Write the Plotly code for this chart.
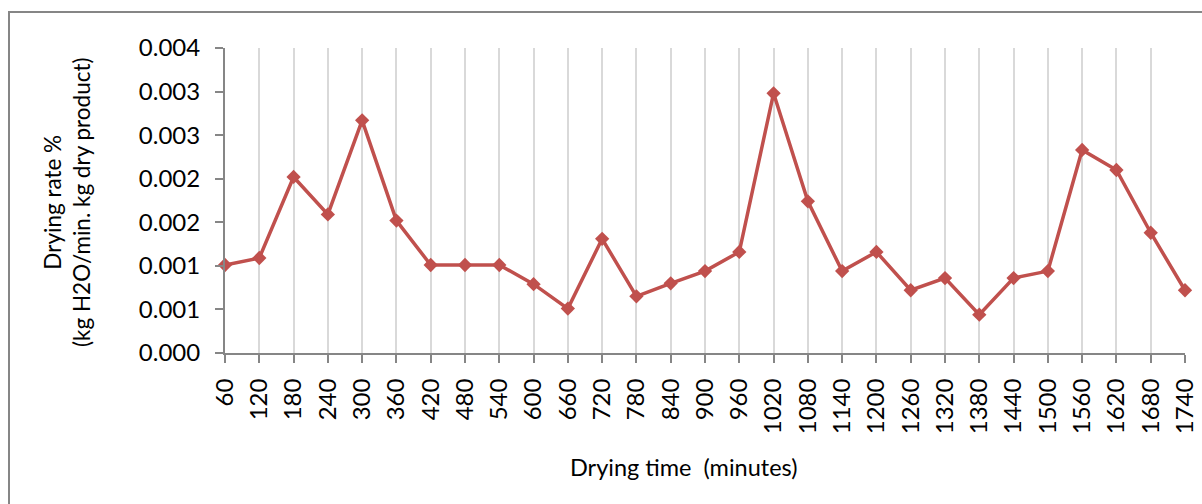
import plotly.graph_objects as go

# Data
drying_time = [60, 120, 180, 240, 300, 360, 420, 480, 540, 600, 660, 720, 780, 840, 900,
               960, 1020, 1080, 1140, 1200, 1260, 1320, 1380, 1440, 1500, 1560, 1620, 1680, 1740]
drying_rate = [0.00101, 0.00109, 0.00202, 0.00159, 0.00267, 0.00152, 0.00101, 0.00101, 0.00101,
               0.00079, 0.00051, 0.00131, 0.00065, 0.00080, 0.00094, 0.00116, 0.00298, 0.00174,
               0.00094, 0.00116, 0.00072, 0.00086, 0.00044, 0.00086, 0.00094, 0.00233, 0.00210,
               0.00138, 0.00072]
y_tickvals = [0, 0.0005, 0.001, 0.0015, 0.002, 0.0025, 0.003, 0.0035]
y_ticktext = ["0.000", "0.001", "0.001", "0.002", "0.002", "0.003", "0.003", "0.004"]
x_title = "Drying time  (minutes)"
y_title = "Drying rate %<br>(kg H2O/min. kg dry product)"

FONT = "Lato, 'Open Sans', sans-serif"
GREY = "#868686"

# Plot-area pixel geometry
W, H = 1202, 504
L, R, T, B = 225, 1185, 48, 353

def px(x):
    return (x - L) / (R - L)

def py(y):
    return (B - y) / (B - T)

fig = go.Figure()
fig.add_trace(go.Scatter(
    x=[str(v) for v in drying_time],
    y=drying_rate,
    mode="lines+markers",
    line=dict(color="#c0504d", width=3.5),
    marker=dict(symbol="diamond", size=11, color="#c0504d"),
    showlegend=False,
    cliponaxis=False,
))

fig.update_layout(
    template="none",
    width=W, height=H,
    margin=dict(l=L, r=W - R, t=T, b=H - B, pad=0),
    paper_bgcolor="white",
    plot_bgcolor="white",
    font=dict(family=FONT, size=24, color="black"),
    xaxis=dict(
        type="category",
        automargin=False,
        range=[0, len(drying_time) - 1],
        showgrid=True, gridcolor="#d9d9d9", gridwidth=1.5,
        showline=True, linecolor=GREY, linewidth=2,
        ticks="outside", ticklen=8, tickcolor=GREY, tickwidth=2,
        tickangle=-90,
        ticklabelstandoff=6,
        tickfont=dict(family=FONT, size=24, color="black"),
        zeroline=False,
    ),
    yaxis=dict(
        automargin=False,
        range=[0, 0.0035],
        tickvals=y_tickvals, ticktext=y_ticktext,
        showgrid=False,
        showline=True, linecolor=GREY, linewidth=2,
        ticks="outside", ticklen=8, tickcolor=GREY, tickwidth=2,
        ticklabelstandoff=10,
        tickfont=dict(family=FONT, size=24, color="black"),
        zeroline=False,
    ),
    shapes=[dict(
        type="rect", xref="paper", yref="paper",
        x0=px(9), x1=px(1215), y0=py(12), y1=py(520),
        line=dict(color=GREY, width=2), fillcolor="rgba(0,0,0,0)", layer="below",
    )],
    annotations=[
        dict(text=x_title, xref="paper", yref="paper", x=px(684), y=py(467),
             xanchor="center", yanchor="middle", showarrow=False,
             font=dict(family=FONT, size=23.5, color="black")),
        dict(text=y_title, xref="paper", yref="paper", x=px(67), y=py(202),
             xanchor="center", yanchor="middle", showarrow=False, textangle=-90,
             font=dict(family=FONT, size=22.5, color="black")),
    ],
)

fig.write_html(
    "out.html",
    config={"displayModeBar": False},
    post_script="document.body.style.margin='0';document.body.style.overflow='hidden';",
)
